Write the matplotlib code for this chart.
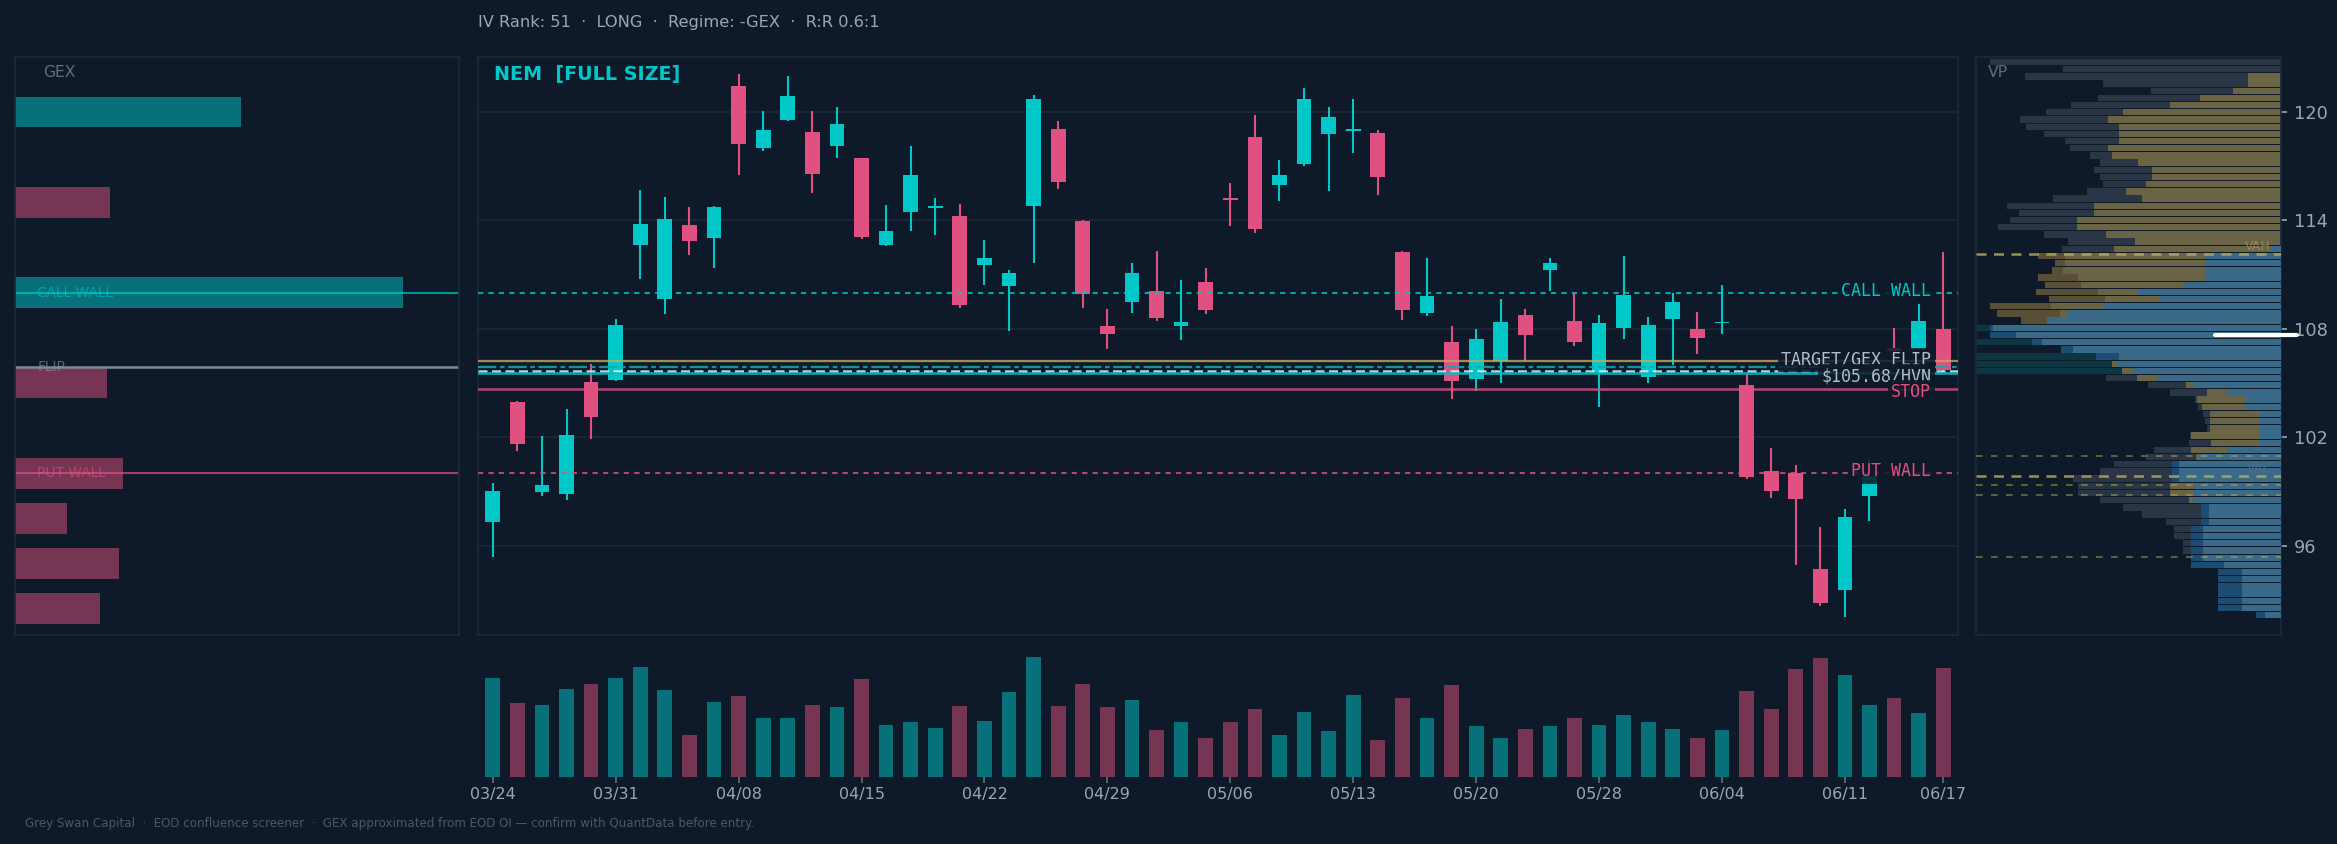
import numpy as np
import matplotlib
matplotlib.use("Agg")
import matplotlib.pyplot as plt
import matplotlib.transforms as mtransforms

# ---- price data (daily OHLC, 60 sessions) ----
opens = [97.28, 103.94, 98.99, 98.85, 105.04, 105.18, 112.65, 109.64, 113.75, 113.04,
         121.45, 118.03, 119.57, 118.92, 118.15, 117.44, 112.63, 114.46, 114.70, 114.24,
         111.53, 110.39, 114.79, 119.08, 113.95, 108.17, 109.50, 110.11, 108.13, 110.60,
         115.18, 118.64, 115.99, 117.15, 118.76, 118.98, 118.86, 112.26, 108.87, 107.26,
         105.20, 106.20, 108.74, 111.23, 108.46, 105.53, 108.03, 105.34, 108.54, 107.97,
         108.30, 104.88, 100.15, 100.03, 94.70, 93.52, 98.77, 106.95, 106.89, 108.01]
highs = [99.48, 104.00, 102.07, 103.55, 106.08, 108.52, 115.66, 115.32, 114.77, 114.79,
         122.10, 120.06, 121.99, 120.06, 120.28, 117.48, 114.87, 118.13, 115.22, 114.93,
         112.90, 111.25, 120.96, 119.51, 114.02, 109.09, 111.67, 112.31, 110.72, 111.37,
         116.05, 119.86, 117.37, 121.34, 120.28, 120.73, 119.02, 112.31, 111.92, 108.15,
         107.99, 109.64, 109.09, 111.92, 109.98, 108.76, 112.02, 108.68, 109.98, 108.93,
         110.41, 105.53, 101.41, 100.46, 97.02, 98.00, 100.74, 108.07, 109.43, 112.24]
lows = [95.39, 101.21, 98.73, 98.52, 101.92, 105.12, 110.74, 108.82, 112.10, 111.39,
        116.52, 117.84, 119.51, 115.52, 117.46, 112.99, 112.59, 113.42, 113.20, 109.13,
        110.41, 107.87, 111.67, 115.75, 109.17, 106.89, 108.87, 108.46, 107.38, 108.80,
        113.71, 113.32, 115.07, 117.01, 115.62, 117.72, 115.42, 108.48, 108.70, 104.12,
        104.55, 105.02, 106.24, 110.07, 107.05, 103.67, 107.46, 105.02, 106.00, 106.63,
        107.73, 99.68, 98.65, 94.94, 92.64, 92.03, 97.36, 106.60, 106.81, 105.60]
closes = [99.05, 101.60, 99.38, 102.13, 103.14, 108.23, 113.79, 114.08, 112.88, 114.73,
          118.23, 119.02, 120.90, 116.56, 119.35, 113.08, 113.40, 116.50, 114.82, 109.33,
          111.92, 111.10, 120.73, 116.11, 109.94, 107.70, 111.10, 108.62, 108.36, 109.07,
          115.14, 113.53, 116.54, 120.73, 119.74, 119.02, 116.38, 109.07, 109.84, 105.10,
          107.42, 108.36, 107.64, 111.65, 107.28, 108.30, 109.88, 108.23, 109.50, 107.52,
          108.36, 99.79, 99.01, 98.56, 92.80, 97.61, 99.83, 106.80, 108.46, 105.73]
# volume, millions of shares
volume = [9.9, 7.4, 7.2, 8.8, 9.3, 9.9, 11.0, 8.7, 4.2, 7.5,
          8.1, 5.9, 5.9, 7.2, 7.0, 9.8, 5.2, 5.5, 4.9, 7.1,
          5.6, 8.5, 12.0, 7.1, 9.3, 7.0, 7.7, 4.7, 5.5, 3.9,
          5.5, 6.8, 4.2, 6.5, 4.6, 8.2, 3.7, 7.9, 5.9, 9.2,
          5.1, 3.9, 4.8, 5.1, 5.9, 5.2, 6.2, 5.5, 4.8, 3.9,
          4.7, 8.6, 6.8, 10.8, 11.9, 10.2, 7.2, 7.9, 6.4, 10.9]
tick_labels = ['03/24', '03/31', '04/08', '04/15', '04/22', '04/29', '05/06',
               '05/13', '05/20', '05/28', '06/04', '06/11', '06/17']

# ---- gamma exposure by strike ----
gex_strikes = [120, 115, 110, 105, 100, 97.5, 95, 92.5]
gex_values = [58.1, -24.4, 100.0, -23.8, -27.7, -13.3, -26.9, -21.8]

# ---- key levels ----
call_wall = 110.0
put_wall = 100.0
gex_flip = 105.88
target = 106.2
hvn = 105.68
entry = 105.57
stop = 104.65

# ---- volume profile (top bin -> bottom bin), three nested layers ----
vp_top, vp_bottom = 122.77, 92.15
vp_outer = [95.4, 71.5, 83.9, 58.4, 42.6, 60.0, 68.9, 77.0, 85.6, 83.6,
            77.7, 70.8, 69.2, 62.6, 59.3, 61.3, 59.3, 58.4, 63.6, 74.8,
            89.8, 85.9, 88.9, 92.8, 77.7, 69.8, 71.8, 79.7, 74.1, 75.1,
            79.7, 77.4, 80.3, 76.1, 95.4, 93.1, 85.2, 100.0, 95.4, 100.0,
            72.1, 100.0, 100.0, 100.0, 57.4, 43.6, 36.4, 28.2, 27.2, 25.6,
            24.9, 24.3, 29.8, 30.2, 41.6, 44.3, 54.8, 59.3, 68.2, 66.6,
            66.6, 59.3, 51.8, 45.6, 37.7, 35.1, 35.1, 32.1, 32.1, 29.5,
            29.5, 20.7, 20.7, 20.7, 20.7, 20.7, 20.7, 8.2]
vp_mid = [0, 0, 10.8, 10.8, 15.7, 26.6, 36.4, 51.8, 56.7, 53.1,
          53.1, 53.1, 56.7, 55.4, 46.9, 42.3, 42.3, 44.3, 50.8, 45.6,
          61.3, 61.3, 66.9, 66.9, 57.4, 47.9, 54.8, 70.8, 70.8, 71.5,
          66.6, 65.6, 60.0, 57.7, 75.4, 72.5, 76.7, 95.4, 95.4, 81.6,
          72.1, 60.7, 55.4, 52.1, 47.2, 31.1, 24.3, 27.5, 25.9, 23.3,
          23.3, 23.3, 29.5, 23.0, 29.5, 27.9, 35.7, 35.7, 35.7, 36.4,
          36.4, 30.2, 26.2, 26.2, 26.2, 29.5, 29.5, 29.5, 29.5, 29.5,
          29.5, 20.7, 20.7, 20.7, 20.7, 20.7, 20.7, 8.2]
vp_inner = [0, 0, 0, 0, 0, 0, 0, 0, 0, 0,
            0, 0, 0, 0, 0, 0, 0, 0, 0, 0,
            0, 0, 0, 0, 0, 0, 3.0, 24.9, 24.9, 24.9,
            24.9, 32.1, 46.9, 40.0, 58.3, 69.8, 76.7, 94.3, 86.9, 78.4,
            68.2, 53.1, 53.9, 48.5, 40.7, 28.5, 17.7, 11.5, 11.5, 6.9,
            6.9, 6.9, 6.9, 6.9, 17.7, 26.6, 33.4, 33.4, 33.4, 28.7,
            28.7, 28.7, 23.6, 23.6, 23.6, 25.6, 25.6, 25.6, 25.6, 25.6,
            18.7, 12.8, 12.8, 12.8, 12.8, 12.8, 12.8, 5.2]
vah = 112.16
val = 99.86
vp_minor_levels = [100.94, 99.38, 98.79, 95.37]
poc = 107.64

# ---- style ----
BG = '#0e1a29'
TEAL = '#00c8c8'
PINK = '#e05080'
FRAME = '#1b2938'
GRID = '#1a2737'
TXT = '#9aa6b4'
DIM = '#5f6d7d'
GOLD = '#c2ad5a'
plt.rcParams['font.family'] = ['DejaVu Sans']

W, H = 2337, 844
fig = plt.figure(figsize=(W / 150, H / 150), dpi=150, facecolor=BG)

ax_gex = fig.add_axes([15 / W, 1 - 635 / H, 444 / W, 578 / H])
ax = fig.add_axes([478 / W, 1 - 635 / H, 1480 / W, 578 / H])
ax_vp = fig.add_axes([1976 / W, 1 - 635 / H, 305 / W, 578 / H], sharey=ax)
ax_vol = fig.add_axes([478 / W, 1 - 777 / H, 1480 / W, 132 / H], sharex=ax)

for a in (ax_gex, ax, ax_vp, ax_vol):
    a.set_facecolor(BG)
    for s in a.spines.values():
        s.set_color(FRAME)
        s.set_linewidth(0.8)

o = np.array(opens)
h = np.array(highs)
l = np.array(lows)
c = np.array(closes)
x = np.arange(len(o))
cols = [TEAL if cc >= oo else PINK for oo, cc in zip(o, c)]

# candles
ax.vlines(x, l, h, colors=cols, lw=1.0, zorder=2)
ax.bar(x, np.maximum(np.abs(c - o), 0.08), bottom=np.minimum(o, c), width=0.6,
       color=cols, zorder=3)
ax.set_xlim(-0.6, 59.6)
ax.set_ylim(91.05, 123.05)
ax.set_yticks([96, 102, 108, 114, 120])
ax.grid(axis='y', color=GRID, lw=0.9)
ax.tick_params(left=False, labelleft=False, bottom=False, labelbottom=False)

# levels
ax.axhline(call_wall, color=TEAL, lw=1.0, ls=(0, (2.5, 2.5)), alpha=0.8, zorder=4)
ax.axhline(put_wall, color=PINK, lw=1.0, ls=(0, (2.5, 2.5)), alpha=0.8, zorder=4)
ax.axhline(target, color=GOLD, lw=1.1, alpha=0.8, zorder=4)
ax.axhline(gex_flip, color='#12a9b2', lw=1.1, ls=(0, (8, 1.6, 2, 1.6)), alpha=0.85, zorder=4)
ax.axhline(hvn, color='#e6ecf0', lw=1.2, ls=(0, (3.6, 1.8)), alpha=0.85, zorder=4)
ax.axhline(entry, color='#12b8c0', lw=1.3, alpha=0.85, zorder=4)
ax.axhline(stop, color=PINK, lw=1.2, alpha=0.8, zorder=4)

trans = mtransforms.blended_transform_factory(ax.transAxes, ax.transData)
level_labels = [("CALL WALL", 110.07, TEAL),
                ("TARGET/GEX FLIP", 106.28, '#b4bcc6'),
                (f"${hvn:.2f}/HVN", 105.38, '#b4bcc6'),
                ("STOP", 104.51, PINK),
                ("PUT WALL", 100.11, PINK)]
for txt, yy, col in level_labels:
    ax.text(0.982, yy, txt, transform=trans, ha='right', va='center',
            family='DejaVu Sans Mono', fontsize=8, color=col, zorder=6,
            bbox=dict(boxstyle='square,pad=0.2', fc=BG, ec='none', alpha=0.85))

ax.text(0.011, 0.97, "NEM  [FULL SIZE]", transform=ax.transAxes, ha='left', va='center',
        fontsize=9.2, fontweight='bold', color=TEAL)

# volume
ax_vol.bar(x, volume, width=0.6, color=cols, alpha=0.5)
ax_vol.set_ylim(0, max(volume) * 1.1)
for s in ax_vol.spines.values():
    s.set_visible(False)
ticks = list(range(0, 60, 5)) + [59]
ax_vol.set_xticks(ticks)
ax_vol.set_xticklabels(tick_labels)
ax_vol.tick_params(axis='x', colors='#5f6d7d', labelcolor=TXT, labelsize=7.7, length=3, pad=2)
ax_vol.tick_params(left=False, labelleft=False)

# GEX panel
gv = np.array(gex_values)
ax_gex.barh(gex_strikes, np.abs(gv), height=1.7,
            color=[TEAL if v > 0 else PINK for v in gv], alpha=0.5)
ax_gex.set_xlim(0, np.abs(gv).max() * 1.143)
ax_gex.set_ylim(91.05, 123.05)
ax_gex.set_xticks([])
ax_gex.set_yticks([])
ax_gex.axhline(call_wall, color=TEAL, lw=1.0, alpha=0.7)
ax_gex.axhline(gex_flip, color='#7e8a98', lw=1.2)
ax_gex.axhline(put_wall, color=PINK, lw=1.0, alpha=0.7)
gex_trans = mtransforms.blended_transform_factory(ax_gex.transAxes, ax_gex.transData)
for txt, yy, col in [("CALL WALL", call_wall, TEAL), ("FLIP", gex_flip, '#8a96a4'),
                     ("PUT WALL", put_wall, PINK)]:
    ax_gex.text(0.05, yy, txt, transform=gex_trans, fontsize=6.6, color=col, alpha=0.6,
                ha='left', va='center')
ax_gex.text(0.063, 0.974, "GEX", transform=ax_gex.transAxes, fontsize=7.5, color=DIM,
            ha='left', va='center')

# volume profile panel
centers = np.linspace(vp_top, vp_bottom, len(vp_outer))
bin_h = (vp_top - vp_bottom) / (len(vp_outer) - 1) * 0.88


def outer_color(p):
    if 105.4 <= p <= 108.2:
        return '#0c3641'
    if 108.2 < p <= 112.2:
        return '#575037'
    return '#2a3646'


def mid_color(p):
    if p < 98.3 or 99.5 < p < 100.7 or 106.3 < p < 108.2:
        return '#1b4c74'
    return '#6a6446'


ax_vp.barh(centers, vp_outer, height=bin_h, color=[outer_color(p) for p in centers], zorder=1)
ax_vp.barh(centers, vp_mid, height=bin_h, color=[mid_color(p) for p in centers], zorder=2)
ax_vp.barh(centers, vp_inner, height=bin_h, color='#3a6a87', zorder=3)
ax_vp.set_xlim(100, 0)
ax_vp.set_xticks([])
ax_vp.axhline(vah, color=GOLD, lw=1.2, ls=(0, (4, 3)), alpha=0.8, zorder=4)
ax_vp.axhline(val, color=GOLD, lw=1.2, ls=(0, (4, 3)), alpha=0.8, zorder=4)
for lv in vp_minor_levels:
    ax_vp.axhline(lv, color=GOLD, lw=0.8, ls=(0, (4, 5)), alpha=0.55, zorder=4)
ax_vp.text(3.5, vah + 0.42, "VAH", fontsize=6, color=GOLD, alpha=0.55, ha='right', va='center')
ax_vp.text(3.5, val + 0.42, "VAL", fontsize=6, color='#4d6f7e', ha='right', va='center')
ax_vp.plot([21.6, -5.2], [poc, poc], color='white', lw=2.0, clip_on=False, zorder=5,
           solid_capstyle='round')
ax_vp.text(0.04, 0.974, "VP", transform=ax_vp.transAxes, fontsize=7.5, color=DIM,
           ha='left', va='center')
ax_vp.tick_params(left=False, labelleft=False, right=True, labelright=True,
                  colors=TXT, labelsize=8.5, length=3, pad=3)
ax_vp.tick_params(bottom=False, labelbottom=False)

# header / footer
fig.text(478 / W, 1 - 22 / H, "IV Rank: 51  \u00b7  LONG  \u00b7  Regime: -GEX  \u00b7  R:R 0.6:1",
         fontsize=7.8, color=TXT, ha='left', va='center')
fig.text(25 / W, 1 - 823 / H,
         "Grey Swan Capital  \u00b7  EOD confluence screener  \u00b7  GEX approximated from EOD OI "
         "\u2014 confirm with QuantData before entry.",
         fontsize=5.7, color='#4a5868', ha='left', va='center')

fig.savefig("out.png", dpi=150, facecolor=BG)
plt.close(fig)
